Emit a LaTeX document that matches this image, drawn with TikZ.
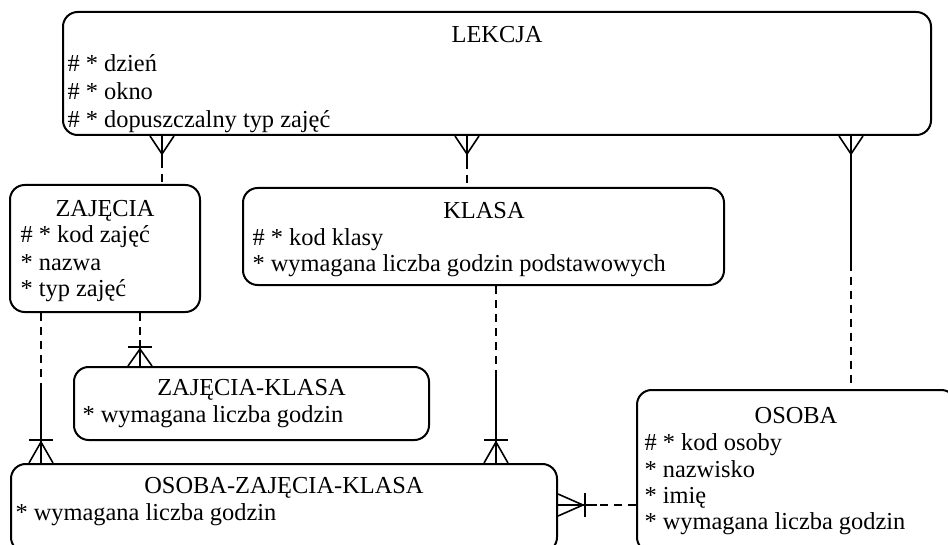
\documentclass[tikz,border=0pt]{standalone}
\usepackage{fontspec}
\setmainfont{Liberation Serif}
\usetikzlibrary{calc,fit}
\tikzset{every picture/.style={line width=0.75pt}}

\begin{document}
\begin{tikzpicture}[
            x=0.75pt,
            y=0.75pt,
            yscale=-1,
            xscale=1,
            every node/.style={text=black},
            entity/.style={draw, line width=1.5pt, rounded corners=11pt, inner sep=0pt},
            title/.style={anchor=base, inner sep=0pt, font=\fontsize{18.3pt}{22pt}\selectfont},
            attr/.style={anchor=base west, inner sep=0pt, font=\fontsize{18.3pt}{22pt}\selectfont},
            link/.style={line width=1.2pt},
            opt/.style={link, dash pattern=on 6pt off 4.5pt},
            line width=0.75pt
        ]
            \fill[white] (0,0) rectangle (948,545);
            \clip (0,0) rectangle (948,545);

            % entities
            \node[entity, fit={(63,12) (931,135)}] (lekcja) {};
            \node[entity, fit={(10,185) (200,312)}] (zajecia) {};
            \node[entity, fit={(243,188) (724,285)}] (klasa) {};
            \node[entity, fit={(74,367) (429,440)}] (zk) {};
            \node[entity, fit={(11,464) (557,552)}] (ozk) {};
            \node[entity, fit={(637,390) (956,552)}] (osoba) {};

            % texts
            \begin{scope}
                \clip (63,12) rectangle (931,134);
                \node[title] (lekt) at (497,43) {LEKCJA};
                \node[attr] (lek1) at (67,72) {\# * dzień};
                \node[attr] (lek2) at (67,100) {\# * okno};
                \node[attr] (lek3) at (67,128) {\# * dopuszczalny typ zajęć};
            \end{scope}
            \node[title] (zajt) at (105,217) {ZAJĘCIA};
            \node[attr] (zaj1) at (20,243) {\# * kod zajęć};
            \node[attr] (zaj2) at (20,270) {* nazwa};
            \node[attr] (zaj3) at (20,296) {* typ zajęć};
            \node[title] (klat) at (484,219) {KLASA};
            \node[attr] (kla1) at (252,245) {\# * kod klasy};
            \node[attr] (kla2) at (252,271) {* wymagana liczba godzin podstawowych};
            \node[title] (zkt) at (251.5,395) {ZAJĘCIA-KLASA};
            \node[attr] (zk1) at (82,422) {* wymagana liczba godzin};
            \node[title] (ozkt) at (284,493) {OSOBA-ZAJĘCIA-KLASA};
            \node[attr] (ozk1) at (15,520) {* wymagana liczba godzin};
            \node[title] (osot) at (796,423) {OSOBA};
            \node[attr] (oso1) at (644,450) {\# * kod osoby};
            \node[attr] (oso2) at (644,477) {* nazwisko};
            \node[attr] (oso3) at (644,503) {* imię};
            \node[attr] (oso4) at (644,529) {* wymagana liczba godzin};

            % connector positions
            \coordinate (c1) at (162,0);
            \coordinate (c2) at (467,0);
            \coordinate (c3) at (851,0);
            \coordinate (c4) at (41,0);
            \coordinate (c5) at (140,0);
            \coordinate (c6) at (496,0);
            \coordinate (c7) at (0,505);

            % LEKCJA - ZAJECIA
            \coordinate (l1) at (lekcja.south -| c1);
            \coordinate (z1) at (zajecia.north -| c1);
            \draw[link] (l1) -- ($(l1)!.5!(z1)$);
            \draw[opt] ($(l1)!.5!(z1)$) -- (z1);
            \draw[link] (l1) ++(-12,0) -- ++(12,18) -- ++(12,-18);

            % LEKCJA - KLASA
            \coordinate (l2) at (lekcja.south -| c2);
            \coordinate (k2) at (klasa.north -| c2);
            \draw[link] (l2) -- ($(l2)!.5!(k2)$);
            \draw[opt] ($(l2)!.5!(k2)$) -- (k2);
            \draw[link] (l2) ++(-12,0) -- ++(12,18) -- ++(12,-18);

            % LEKCJA - OSOBA
            \coordinate (l3) at (lekcja.south -| c3);
            \coordinate (s3) at (osoba.north -| c3);
            \draw[link] (l3) -- ($(l3)!.5!(s3)$);
            \draw[opt] ($(l3)!.5!(s3)$) -- (s3);
            \draw[link] (l3) ++(-12,0) -- ++(12,18) -- ++(12,-18);

            % ZAJECIA - OSOBA-ZAJECIA-KLASA
            \coordinate (z4) at (zajecia.south -| c4);
            \coordinate (o4) at (ozk.north -| c4);
            \draw[opt] (z4) -- ($(z4)!.5!(o4)$);
            \draw[link] ($(z4)!.5!(o4)$) -- (o4);
            \draw[link] (o4) ++(-12,0) -- ++(12,-21) -- ++(12,21);
            \draw[link] (o4) ++(-12,-23) -- ++(24,0);

            % ZAJECIA - ZAJECIA-KLASA
            \coordinate (z5) at (zajecia.south -| c5);
            \coordinate (k5) at (zk.north -| c5);
            \draw[opt] (z5) -- ($(z5)!.5!(k5)$);
            \draw[link] ($(z5)!.5!(k5)$) -- (k5);
            \draw[link] (k5) ++(-12,0) -- ++(12,-17) -- ++(12,17);
            \draw[link] (k5) ++(-12,-19) -- ++(24,0);

            % KLASA - OSOBA-ZAJECIA-KLASA
            \coordinate (k6) at (klasa.south -| c6);
            \coordinate (o6) at (ozk.north -| c6);
            \draw[opt] (k6) -- ($(k6)!.5!(o6)$);
            \draw[link] ($(k6)!.5!(o6)$) -- (o6);
            \draw[link] (o6) ++(-12,0) -- ++(12,-21) -- ++(12,21);
            \draw[link] (o6) ++(-12,-23) -- ++(24,0);

            % OSOBA - OSOBA-ZAJECIA-KLASA
            \coordinate (s7) at (osoba.west |- c7);
            \coordinate (o7) at (ozk.east |- c7);
            \draw[opt] (s7) -- ($(s7)!.5!(o7)$);
            \draw[link] ($(s7)!.5!(o7)$) -- (o7);
            \draw[link] (o7) ++(0,-11) -- ++(25,11) -- ++(-25,11);
            \draw[link] (o7) ++(27,-12) -- ++(0,24);
        \end{tikzpicture}
\end{document}
